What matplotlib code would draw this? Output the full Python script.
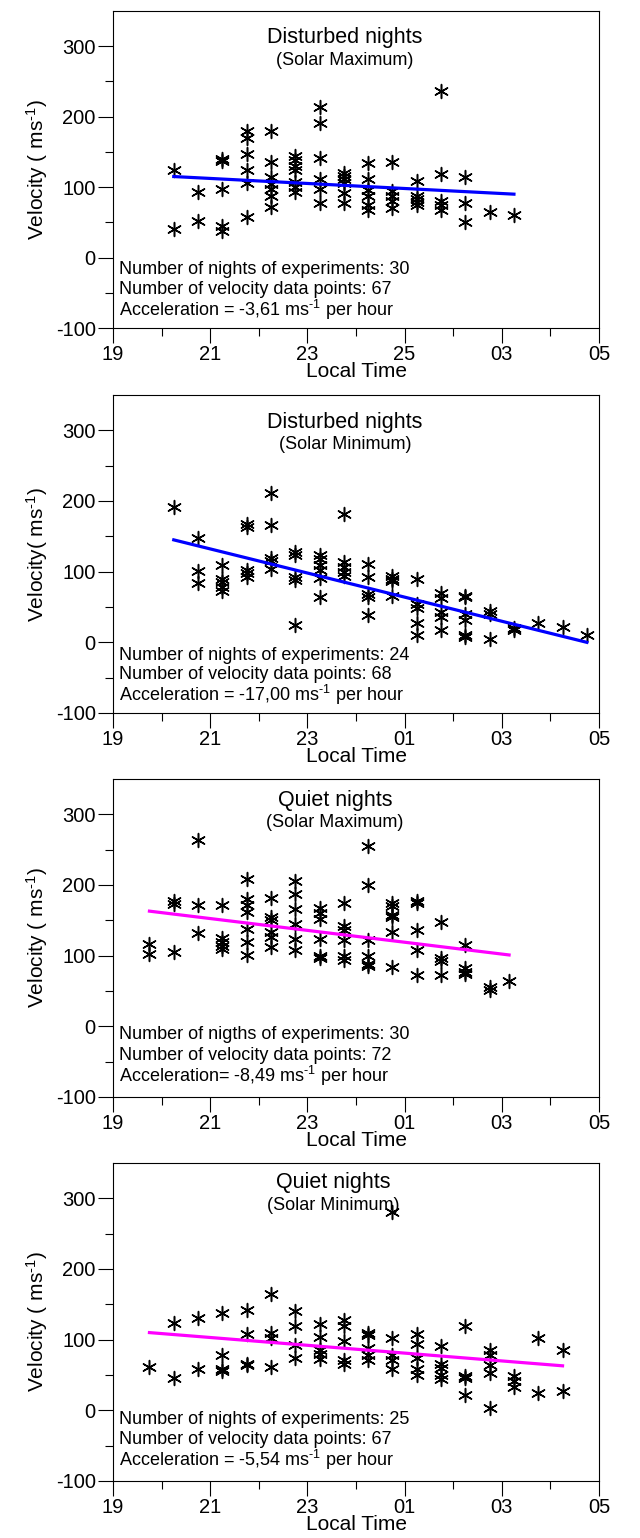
"""Meridional velocity vs local time, disturbed/quiet nights at solar max/min."""

import matplotlib
matplotlib.use("Agg")
import matplotlib.pyplot as plt
from matplotlib.ticker import FixedLocator, MultipleLocator

plt.rcParams["font.family"] = ["Liberation Sans", "DejaVu Sans"]
plt.rcParams["mathtext.fontset"] = "custom"
plt.rcParams["mathtext.rm"] = "Liberation Sans"
plt.rcParams["mathtext.it"] = "Liberation Sans:italic"
plt.rcParams["axes.unicode_minus"] = False

# --- data --------------------------------------------------------------
# Disturbed nights, solar maximum
dmax_cols = [20.25, 20.75, 21.25, 21.75, 22.25, 22.75, 23.25, 23.75,
             24.25, 24.75, 25.25, 25.75, 26.25, 26.75, 27.25]
dmax_vel = [[124, 41], [93, 52], [140, 137, 97, 45, 38],
            [179, 170, 147, 125, 106, 57], [180, 135, 115, 104, 97, 88, 72],
            [144, 138, 130, 125, 107, 100, 93], [214, 191, 141, 112, 97, 77],
            [120, 116, 112, 106, 92, 78], [134, 112, 96, 87, 74, 68],
            [135, 95, 88, 80, 71], [108, 88, 83, 79, 75],
            [236, 118, 80, 74, 68], [115, 78, 51], [64], [60]]
dmax_fit_x = [20.25, 27.25]
dmax_fit_y = [115, 90]

# Disturbed nights, solar minimum
dmin_cols = [20.25, 20.75, 21.25, 21.75, 22.25, 22.75, 23.25, 23.75, 24.25,
             24.75, 25.25, 25.75, 26.25, 26.75, 27.25, 27.75, 28.25, 28.75]
dmin_vel = [[191], [148, 101, 84], [110, 90, 85, 78, 72],
            [168, 163, 103, 98, 93], [211, 166, 120, 115, 104],
            [128, 123, 92, 88, 25], [124, 118, 110, 102, 91, 64],
            [182, 114, 106, 100, 94], [111, 92, 68, 64, 38],
            [94, 90, 87, 65], [90, 54, 48, 28, 10], [70, 63, 43, 36, 17],
            [65, 64, 40, 31, 10, 8], [45, 40, 5], [20, 17], [27], [22], [11]]
dmin_fit_x = [20.25, 28.75]
dmin_fit_y = [145, 0]

# Quiet nights, solar maximum
qmax_cols = [19.75, 20.25, 20.75, 21.25, 21.75, 22.25, 22.75, 23.25,
             23.75, 24.25, 24.75, 25.25, 25.75, 26.25, 26.75, 27.15]
qmax_vel = [[117, 103], [177, 173, 105], [263, 171, 132],
            [171, 125, 119, 114, 110], [208, 180, 172, 162, 138, 119, 101],
            [181, 155, 150, 133, 126, 112], [205, 187, 166, 145, 124, 108],
            [168, 161, 152, 124, 100, 97], [175, 142, 137, 122, 100, 94],
            [255, 200, 122, 100, 88, 85], [175, 170, 158, 155, 133, 84],
            [178, 175, 137, 108, 72], [148, 97, 92, 72], [115, 82, 77, 74],
            [55, 52], [64]]
qmax_fit_x = [19.75, 27.15]
qmax_fit_y = [163, 101]

# Quiet nights, solar minimum
qmin_cols = [19.75, 20.25, 20.75, 21.25, 21.75, 22.25, 22.75, 23.25, 23.75,
             24.25, 24.75, 25.25, 25.75, 26.25, 26.75, 27.25, 27.75, 28.25]
qmin_vel = [[62], [123, 46], [131, 58], [138, 78, 59, 55], [142, 108, 66, 64],
            [164, 110, 102, 62], [140, 119, 92, 74], [122, 104, 85, 80, 72],
            [128, 120, 98, 71, 66], [110, 106, 88, 78, 71],
            [280, 103, 78, 71, 59], [108, 94, 74, 59, 50],
            [91, 66, 60, 50, 45], [119, 49, 46, 22], [86, 78, 64, 53, 3],
            [48, 42, 33], [102, 25], [86, 28]]
qmin_fit_x = [19.75, 28.25]
qmin_fit_y = [110, 63]

xticks_major = [19, 21, 23, 25, 27, 29]
xlabels_dmax = ["19", "21", "23", "25", "03", "05"]
xlabels_other = ["19", "21", "23", "01", "03", "05"]

UNIT = r"ms$^{\text{-}1}$"

panels = [
    dict(cols=dmax_cols, vel=dmax_vel, fx=dmax_fit_x, fy=dmax_fit_y,
         color="#0000ff", title="Disturbed nights", sub="(Solar Maximum)",
         tx=0.477, ty=(0.915, 0.845), xlabels=xlabels_dmax,
         ylabel="Velocity ( " + UNIT + ")",
         notes=["Number of nights of experiments: 30",
                "Number of velocity data points: 67",
                "Acceleration = -3,61 " + UNIT + " per hour"],
         ny=(0.183, 0.120, 0.057)),
    dict(cols=dmin_cols, vel=dmin_vel, fx=dmin_fit_x, fy=dmin_fit_y,
         color="#0000ff", title="Disturbed nights", sub="(Solar Minimum)",
         tx=0.477, ty=(0.912, 0.843), xlabels=xlabels_other,
         ylabel="Velocity( " + UNIT + ")",
         notes=["Number of nights of experiments: 24",
                "Number of velocity data points: 68",
                "Acceleration = -17,00 " + UNIT + " per hour"],
         ny=(0.182, 0.120, 0.057)),
    dict(cols=qmax_cols, vel=qmax_vel, fx=qmax_fit_x, fy=qmax_fit_y,
         color="#ff00ff", title="Quiet nights", sub="(Solar Maximum)",
         tx=0.457, ty=(0.932, 0.863), xlabels=xlabels_other,
         ylabel="Velocity ( " + UNIT + ")",
         notes=["Number of nigths of experiments: 30",
                "Number of velocity data points: 72",
                "Acceleration= -8,49 " + UNIT + " per hour"],
         ny=(0.195, 0.129, 0.066)),
    dict(cols=qmin_cols, vel=qmin_vel, fx=qmin_fit_x, fy=qmin_fit_y,
         color="#ff00ff", title="Quiet nights", sub="(Solar Minimum)",
         tx=0.453, ty=(0.938, 0.865), xlabels=xlabels_other,
         ylabel="Velocity ( " + UNIT + ")",
         notes=["Number of nights of experiments: 25",
                "Number of velocity data points: 67",
                "Acceleration = -5,54 " + UNIT + " per hour"],
         ny=(0.192, 0.129, 0.066)),
]

# axes boxes in pixels (top, bottom) of a 640x1538 canvas
boxes = [(11, 328), (395, 713), (779, 1097), (1163, 1481)]
W, H = 640, 1538
left, right = 113, 599

asterisk = (6, 2, 0)


def main():
    fig = plt.figure(figsize=(W / 100, H / 100), dpi=100)
    for p, (top, bot) in zip(panels, boxes):
        ax = fig.add_axes([left / W, 1 - bot / H, (right - left) / W, (bot - top) / H])

        xs, ys = [], []
        for c, vals in zip(p["cols"], p["vel"]):
            xs.extend([c] * len(vals))
            ys.extend(vals)
        ax.scatter(xs, ys, marker=asterisk, s=100, c="black", linewidths=1.1, zorder=3)
        ax.plot(p["fx"], p["fy"], color=p["color"], lw=2.3, zorder=4)

        ax.set_xlim(19, 29)
        ax.set_ylim(-100, 350)
        ax.xaxis.set_major_locator(FixedLocator(xticks_major))
        ax.set_xticklabels(p["xlabels"])
        ax.xaxis.set_minor_locator(MultipleLocator(1))
        ax.yaxis.set_major_locator(FixedLocator([-100, 0, 100, 200, 300]))
        ax.yaxis.set_minor_locator(FixedLocator([-50, 50, 150, 250]))
        ax.tick_params(which="major", direction="out", length=11, width=0.8,
                       labelsize=14.5, pad=1.5)
        ax.tick_params(which="minor", direction="out", length=5.5, width=0.8)
        for s in ax.spines.values():
            s.set_linewidth(0.8)

        ax.set_xlabel("Local Time", fontsize=15, labelpad=-2)
        ax.set_ylabel(p["ylabel"], fontsize=15, labelpad=4)

        ax.text(p["tx"], p["ty"][0], p["title"], transform=ax.transAxes,
                ha="center", va="center", fontsize=15.5)
        ax.text(p["tx"], p["ty"][1], p["sub"], transform=ax.transAxes,
                ha="center", va="center", fontsize=13)
        for line, y in zip(p["notes"], p["ny"]):
            ax.text(0.012, y, line, transform=ax.transAxes,
                    ha="left", va="center", fontsize=13)

    fig.savefig("out.png", dpi=100)
    plt.close(fig)


if __name__ == "__main__":
    main()
